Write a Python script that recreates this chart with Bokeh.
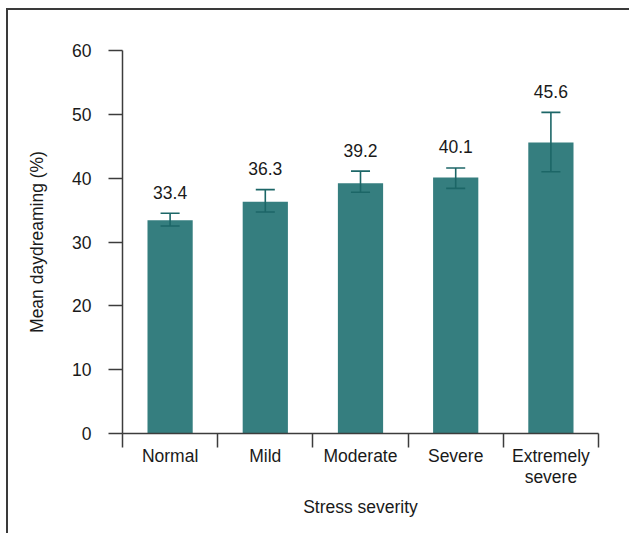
from bokeh.plotting import figure
from bokeh.models import FixedTicker, Range1d, ColumnDataSource
from bokeh.embed import file_html
from bokeh.resources import INLINE
from bokeh.core.properties import value

# Mean daydreaming by stress severity, with error bars
categories = ["Normal", "Mild", "Moderate", "Severe", "Extremely\nsevere"]
means = [33.4, 36.3, 39.2, 40.1, 45.6]
err_low = [32.5, 34.7, 37.8, 38.4, 41.0]
err_high = [34.5, 38.2, 41.1, 41.6, 50.3]
y_ticks = [0, 10, 20, 30, 40, 50, 60]

FONT = "Liberation Sans"
TEXT = "#1a1a1a"
AXIS = "#3c3c3c"
BAR = "#357e7f"
ERR = "#1c6667"

centers = [i + 0.5 for i in range(len(categories))]
src = ColumnDataSource(dict(
    x=centers,
    top=means,
    lo=err_low,
    hi=err_high,
    cap_l=[c - 0.1 for c in centers],
    cap_r=[c + 0.1 for c in centers],
    label=[f"{m:.1f}" for m in means],
))

p = figure(
    frame_width=476, frame_height=383,
    x_range=Range1d(0, len(categories)), y_range=Range1d(0, 60),
    output_backend="svg", toolbar_location=None,
    min_border_left=114, min_border_right=31,
    min_border_top=40, min_border_bottom=110,
)
p.margin = (8, 0, 0, 6)
p.styles = {"border-left": "2px solid #3a3a3a", "border-top": "2px solid #3a3a3a"}

p.outline_line_color = None
p.grid.visible = False
p.background_fill_color = "white"
p.border_fill_color = "white"

p.vbar(x="x", top="top", bottom=0, width=0.475, source=src,
       fill_color=BAR, line_color=None)

# error bars: stem plus caps
p.segment(x0="x", x1="x", y0="lo", y1="hi", source=src, line_color=ERR, line_width=1.6)
p.segment(x0="cap_l", x1="cap_r", y0="hi", y1="hi", source=src, line_color=ERR, line_width=1.6)
p.segment(x0="cap_l", x1="cap_r", y0="lo", y1="lo", source=src, line_color=ERR, line_width=1.6)

# value labels above each error bar
p.text(x="x", y="hi", text="label", source=src, y_offset=-21,
       text_align="center", text_baseline="middle",
       text_font=value(FONT), text_font_size="17.5px", text_color=TEXT)

# x axis: labels at bar centres, ticks at category boundaries
xax = p.xaxis[0]
xax.ticker = FixedTicker(ticks=centers, minor_ticks=list(range(len(categories) + 1)))
xax.major_label_overrides = {c: lab for c, lab in zip(centers, categories)}
xax.major_tick_out = 0
xax.major_tick_in = 0
xax.minor_tick_out = 14
xax.minor_tick_in = 0
xax.minor_tick_line_color = AXIS
xax.minor_tick_line_width = 1.5
xax.major_label_standoff = -2
xax.major_label_text_line_height = 1.05
xax.axis_label = "Stress severity"
xax.axis_label_standoff = 7

yax = p.yaxis[0]
yax.ticker = FixedTicker(ticks=y_ticks)
yax.major_tick_out = 14
yax.major_tick_in = 0
yax.minor_tick_line_color = None
yax.major_tick_line_color = AXIS
yax.major_tick_line_width = 1.5
yax.major_label_standoff = 17
yax.axis_label = "Mean daydreaming (%)"
yax.axis_label_standoff = 22

for ax in (xax, yax):
    ax.axis_line_color = AXIS
    ax.axis_line_width = 1.5
    ax.major_label_text_font = FONT
    ax.major_label_text_font_size = "17.5px"
    ax.major_label_text_color = TEXT
    ax.axis_label_text_font = FONT
    ax.axis_label_text_font_size = "17.5px"
    ax.axis_label_text_font_style = "normal"
    ax.axis_label_text_color = TEXT

open("out.html", "w").write(file_html(p, INLINE))
